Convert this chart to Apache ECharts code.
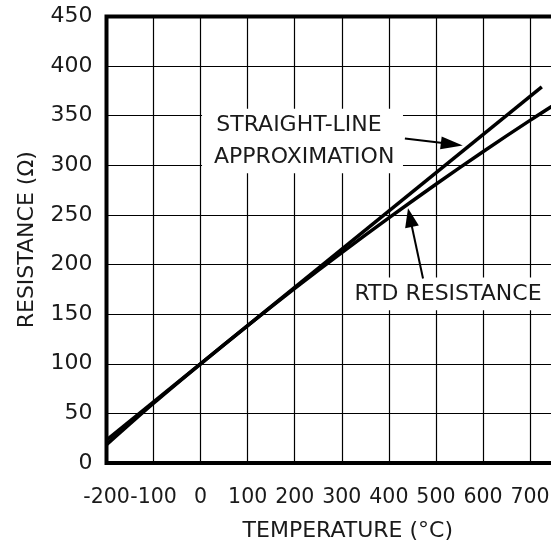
<!DOCTYPE html>
<html><head><meta charset="utf-8">
<script src="https://cdn.jsdelivr.net/npm/echarts@6/dist/echarts.min.js"></script>
<style>html,body{margin:0;padding:0;background:#fff}#c{width:551px;height:542px}</style>
</head><body><div id="c"></div><script>
// ---- data ----
const rtdTemps = [-200, -100, 0, 100, 200, 300, 400, 500, 600, 700, 800];
const rtdResistance = [18.5, 60.3, 100, 138.5, 175.9, 212.1, 247.1, 280.9, 313.7, 345.3, 375.7];
const straightTemps = [-200, 725];
const straightResistance = [23, 379];
const xTickLabels = [-200, -100, 0, 100, 200, 300, 400, 500, 600, 700];
const yTickLabels = [0, 50, 100, 150, 200, 250, 300, 350, 400, 450];
const xAxisTitle = 'TEMPERATURE (°C)';
const yAxisTitle = 'RESISTANCE (Ω)';
const noteStraight = ['STRAIGHT-LINE', 'APPROXIMATION'];
const noteRtd = 'RTD RESISTANCE';

// ---- annotation anchors (data coordinates) ----
const noteBox1 = [[3, 357], [430, 292]];
const noteText1 = [[209, 340], [220, 308.6]];
const arrow1 = [[434, 327], [557, 320]];
const noteBox2 = [[307, 187], [790, 154]];
const noteText2 = [525.6, 170];
const arrow2 = [[472.6, 186], [440.7, 256.7]];

const FONT = 'DejaVu Sans';
const TXT = '#1a1a1a';
const FS = 22;

const chart = echarts.init(document.getElementById('c'), null, {renderer: 'canvas'});
const pair = (xs, ys) => xs.map((x, i) => [x, ys[i]]);

chart.setOption({
  animation: false,
  backgroundColor: '#fff',
  grid: {left: 106.5, top: 16.5, width: 470.6, height: 446.5, show: true,
         outerBoundsMode: 'none',
         borderColor: '#000', borderWidth: 4, backgroundColor: 'transparent', containLabel: false},
  xAxis: {
    type: 'value', min: xTickLabels[0], max: 800, interval: 100,
    axisLine: {show: false}, axisTick: {show: false},
    splitLine: {show: true, lineStyle: {color: '#000', width: 1.2}},
    axisLabel: {show: true, interval: 0, margin: 24, showMinLabel: true, showMaxLabel: true,
      hideOverlap: false, align: 'center',
      fontFamily: FONT, fontSize: 20.5, color: TXT,
      formatter: v => xTickLabels.indexOf(v) >= 0 ? String(v) : ''},
    name: xAxisTitle, nameLocation: 'middle', nameGap: 57,
    nameTextStyle: {fontFamily: FONT, fontSize: FS, color: TXT, padding: [0, 0, 0, 12]}
  },
  yAxis: {
    type: 'value', min: yTickLabels[0], max: yTickLabels[yTickLabels.length - 1], interval: 50,
    axisLine: {show: false}, axisTick: {show: false},
    splitLine: {show: true, lineStyle: {color: '#000', width: 1.2}},
    axisLabel: {margin: 14, showMinLabel: true, showMaxLabel: true, hideOverlap: false,
      fontFamily: FONT, fontSize: FS, color: TXT},
    name: yAxisTitle, nameLocation: 'middle', nameGap: 68, nameRotate: 90,
    nameTextStyle: {fontFamily: FONT, fontSize: FS, color: TXT}
  },
  series: [
    {type: 'line', name: 'RTD', data: pair(rtdTemps, rtdResistance), smooth: 0.3,
     symbol: 'none', lineStyle: {color: '#000', width: 3.5}, z: 5},
    {type: 'line', name: 'Straight', data: pair(straightTemps, straightResistance),
     symbol: 'none', lineStyle: {color: '#000', width: 3.5, cap: 'butt'}, z: 5}
  ]
});

function px(p) { return chart.convertToPixel({gridIndex: 0}, p); }
function arrowEls(a, headLen, headHalf) {
  const t = px(a[0]), h = px(a[1]);
  const dx = h[0] - t[0], dy = h[1] - t[1], L = Math.hypot(dx, dy);
  const ux = dx / L, uy = dy / L;
  const bx = h[0] - ux * headLen, by = h[1] - uy * headLen;
  return [
    {type: 'line', z: 120, shape: {x1: t[0], y1: t[1], x2: bx + ux * 2, y2: by + uy * 2},
     style: {stroke: '#000', lineWidth: 2}},
    {type: 'polygon', z: 120, shape: {points: [[h[0], h[1]],
      [bx - uy * headHalf, by + ux * headHalf], [bx + uy * headHalf, by - ux * headHalf]]},
     style: {fill: '#000'}}
  ];
}
function boxEl(b) {
  const p1 = px(b[0]), p2 = px(b[1]);
  return {type: 'rect', z: 100, shape: {x: Math.min(p1[0], p2[0]), y: Math.min(p1[1], p2[1]),
    width: Math.abs(p2[0] - p1[0]), height: Math.abs(p2[1] - p1[1])}, style: {fill: '#fff'}};
}
function textEl(str, p) {
  const q = px(p);
  return {type: 'text', z: 110, x: q[0], y: q[1], style: {text: str, fill: TXT,
    font: FS + 'px "' + FONT + '"', textAlign: 'center', textVerticalAlign: 'middle'}};
}
const els = [boxEl(noteBox1), boxEl(noteBox2),
  textEl(noteStraight[0], noteText1[0]), textEl(noteStraight[1], noteText1[1]),
  textEl(noteRtd, noteText2)]
  .concat(arrowEls(arrow1, 22, 6.5), arrowEls(arrow2, 19, 7));
chart.setOption({graphic: {elements: els}});
</script></body></html>
